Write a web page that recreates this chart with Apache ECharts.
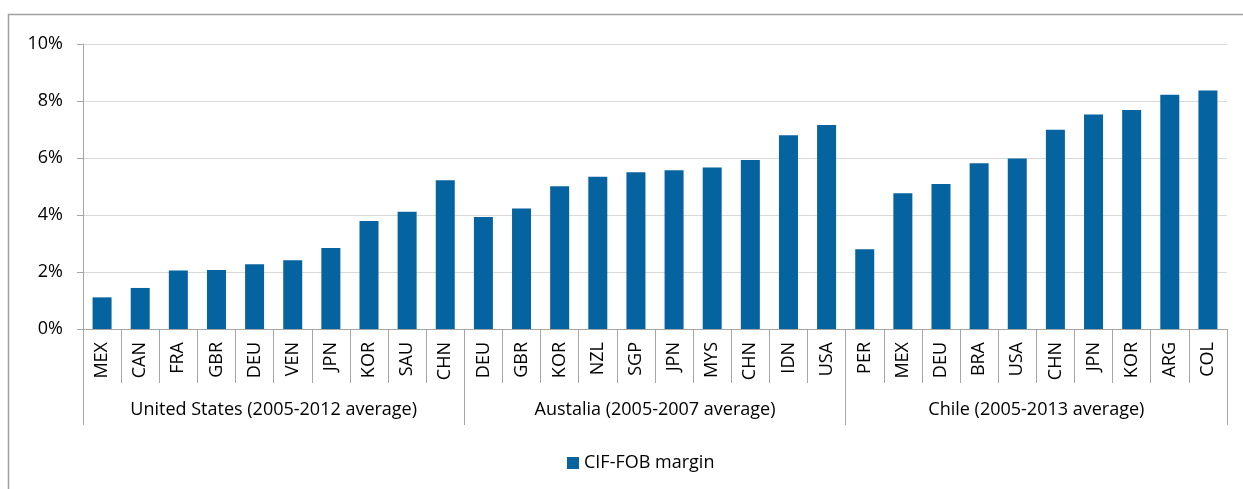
<!DOCTYPE html>
<html lang="en">
<head>
<meta charset="utf-8" />
<title>CIF-FOB margin</title>
<script src="https://cdn.jsdelivr.net/npm/echarts@6/dist/echarts.min.js"></script>
<style>
  html, body { margin: 0; padding: 0; background: #fff; }
  #chart { width: 1243px; height: 489px; }
</style>
</head>
<body>
<div id="chart"></div>
<script type="text/javascript">
  // partner countries, in plot order
  var countries = [
    'MEX', 'CAN', 'FRA', 'GBR', 'DEU', 'VEN', 'JPN', 'KOR', 'SAU', 'CHN',
    'DEU', 'GBR', 'KOR', 'NZL', 'SGP', 'JPN', 'MYS', 'CHN', 'IDN', 'USA',
    'PER', 'MEX', 'DEU', 'BRA', 'USA', 'CHN', 'JPN', 'KOR', 'ARG', 'COL'
  ];
  // reporting country groups (10 partners each)
  var groups = ['United States (2005-2012 average)', 'Austalia (2005-2007 average)', 'Chile (2005-2013 average)'];
  // CIF-FOB margin, percent
  var margin = [
    1.11, 1.44, 2.05, 2.07, 2.27, 2.41, 2.84, 3.79, 4.11, 5.22,
    3.93, 4.23, 5.01, 5.34, 5.50, 5.57, 5.67, 5.93, 6.80, 7.16,
    2.80, 4.76, 5.09, 5.82, 5.98, 6.99, 7.53, 7.68, 8.22, 8.37
  ];

  var font = 'Open Sans';
  var axisGrey = '#a6a6a6';

  var chart = echarts.init(document.getElementById('chart'));
  var option = {
    backgroundColor: '#fff',
    animation: false,
    textStyle: { fontFamily: font },
    graphic: [{
      type: 'rect',
      shape: { x: 8.5, y: 14.5, width: 1300, height: 600 },
      style: { fill: 'none', stroke: '#a0a0a0', lineWidth: 1.5 },
      silent: true
    }],
    legend: {
      data: ['CIF-FOB margin'],
      left: 562,
      top: 449,
      itemWidth: 12,
      itemHeight: 12,
      itemGap: 4,
      icon: 'rect',
      textStyle: { fontFamily: font, fontSize: 18, color: '#000' }
    },
    grid: { left: 83, right: 16, top: 44, bottom: 160 },
    xAxis: [{
      type: 'category',
      data: countries,
      axisLine: { lineStyle: { color: axisGrey } },
      axisTick: { show: true, alignWithLabel: false, interval: 0, length: 54, lineStyle: { color: axisGrey } },
      axisLabel: { rotate: 90, margin: 13, interval: 0, fontFamily: font, fontSize: 18, color: '#000' }
    }, {
      type: 'category',
      data: groups,
      position: 'bottom',
      axisLine: { show: false },
      axisTick: { show: true, alignWithLabel: false, interval: 0, length: 96, lineStyle: { color: axisGrey } },
      axisLabel: { margin: 72, interval: 0, fontFamily: font, fontSize: 18, color: '#000' }
    }],
    yAxis: {
      type: 'value',
      min: 0,
      max: 10,
      interval: 2,
      axisLine: { show: true, lineStyle: { color: axisGrey } },
      axisTick: { show: true, length: 6, lineStyle: { color: axisGrey } },
      axisLabel: { formatter: '{value}%', margin: 20, fontFamily: font, fontSize: 18, color: '#000' },
      splitLine: { lineStyle: { color: '#d9d9d9' } }
    },
    series: [{
      name: 'CIF-FOB margin',
      type: 'bar',
      xAxisIndex: 0,
      data: margin,
      barWidth: 19,
      itemStyle: { color: '#0563a0' }
    }]
  };
  chart.setOption(option);
</script>
</body>
</html>
